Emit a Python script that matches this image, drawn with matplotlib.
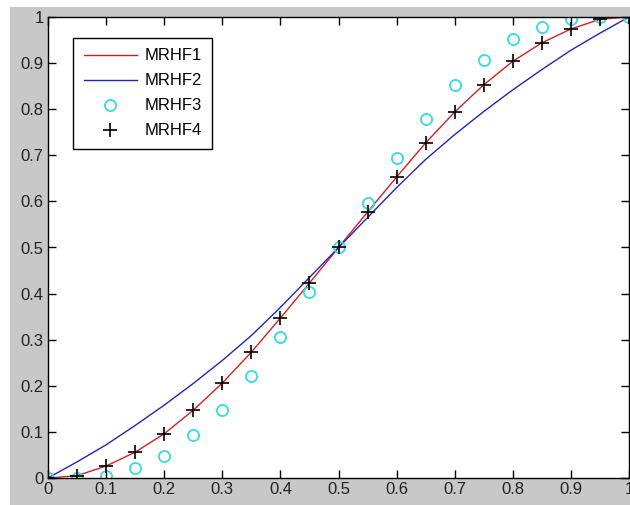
import matplotlib.pyplot as plt
from matplotlib.patches import Rectangle

plt.rcParams['font.family'] = ['Liberation Sans', 'DejaVu Sans']

x = [0, 0.05, 0.1, 0.15, 0.2, 0.25, 0.3, 0.35, 0.4, 0.45, 0.5,
     0.55, 0.6, 0.65, 0.7, 0.75, 0.8, 0.85, 0.9, 0.95, 1.0]
mrhf1 = [0, 0.005, 0.026, 0.056, 0.096, 0.147, 0.206, 0.273, 0.347, 0.423, 0.5,
         0.577, 0.653, 0.727, 0.794, 0.853, 0.904, 0.944, 0.974, 0.995, 1.0]
mrhf2 = [0, 0.035, 0.072, 0.114, 0.158, 0.205, 0.255, 0.309, 0.37, 0.435, 0.5,
         0.565, 0.63, 0.691, 0.745, 0.795, 0.842, 0.886, 0.928, 0.965, 1.0]
mrhf3 = [0, 0.0, 0.005, 0.022, 0.048, 0.093, 0.148, 0.221, 0.306, 0.403, 0.5,
         0.597, 0.694, 0.779, 0.852, 0.907, 0.952, 0.978, 0.995, 1.0, 1.0]
mrhf4 = mrhf1

fig = plt.figure(figsize=(6.3, 5.05), dpi=100, facecolor='white')
# grey matlab-style figure background
fig.patches.append(Rectangle((10 / 630, 0), 1, 498 / 505, transform=fig.transFigure,
                             facecolor='#c8c8c8', edgecolor='none', zorder=-1))
ax = fig.add_axes([48 / 630, 27 / 505, 581 / 630, 461 / 505])

ax.plot(x, mrhf1, color='#d42020', lw=1.0, label='MRHF1')
ax.plot(x, mrhf2, color='#2424b4', lw=1.0, label='MRHF2')
ax.plot(x, mrhf3, 'o', color='#33dddd', mfc='none', ms=8, mew=1.3, label='MRHF3')
ax.plot(x, mrhf4, '+', color='black', ms=10, mew=1.2, label='MRHF4')

ax.set_xlim(0, 1)
ax.set_ylim(0, 1)
ticks = [0, 0.1, 0.2, 0.3, 0.4, 0.5, 0.6, 0.7, 0.8, 0.9, 1]
labels = ['0', '0.1', '0.2', '0.3', '0.4', '0.5', '0.6', '0.7', '0.8', '0.9', '1']
ax.set_xticks(ticks, labels)
ax.set_yticks(ticks, labels)
ax.tick_params(direction='in', length=6, width=1, top=True, right=True,
               labelsize=12, colors='black', labelcolor='#222222', pad=3)
for s in ax.spines.values():
    s.set_linewidth(1.0)

leg = ax.legend(loc='upper left', bbox_to_anchor=(25 / 581, 440 / 461), borderaxespad=0,
                fontsize=12, fancybox=False, edgecolor='black', framealpha=1,
                handlelength=3.2, handletextpad=0.45, labelspacing=0.6,
                borderpad=0.63, numpoints=1)
leg.get_frame().set_linewidth(1.0)

fig.savefig('out.png', dpi=100, facecolor=fig.get_facecolor())
